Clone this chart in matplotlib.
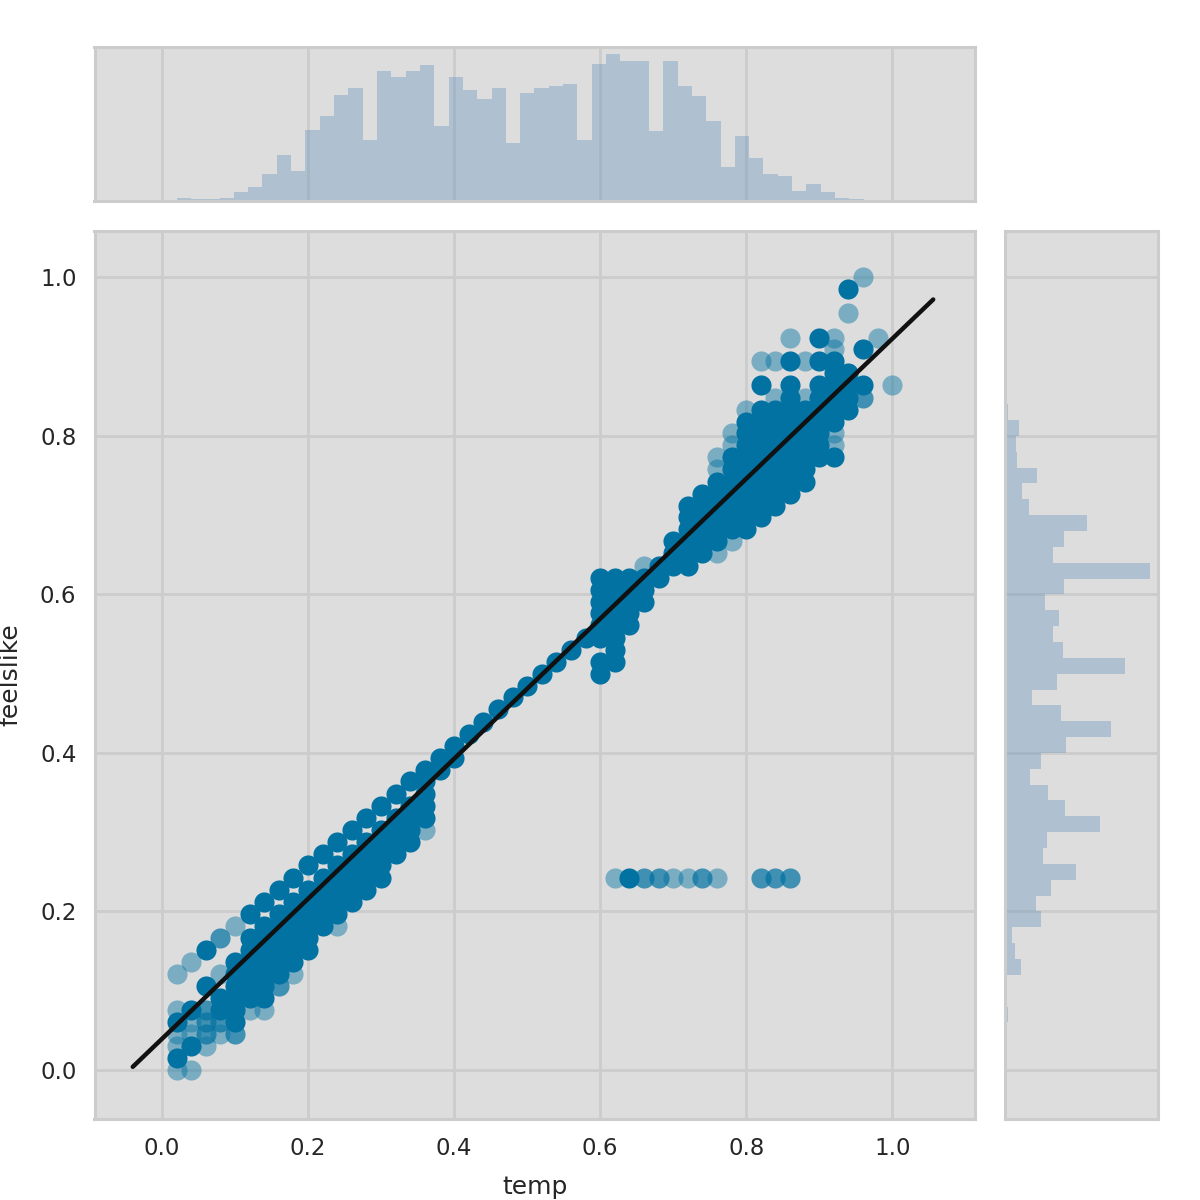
import numpy as np
import matplotlib
matplotlib.use('Agg')
from matplotlib import pyplot as plt

plt.rcParams['font.family'] = ['DejaVu Sans']

# scatter data: temp columns (0.02 steps), feelslike values
col_x = [0.02, 0.04, 0.06, 0.08, 0.10, 0.12, 0.14, 0.16, 0.18, 0.20,
         0.22, 0.24, 0.26, 0.28, 0.30, 0.32, 0.34, 0.36, 0.38, 0.40,
         0.42, 0.44, 0.46, 0.48, 0.50, 0.52, 0.54, 0.56, 0.58, 0.60,
         0.62, 0.64, 0.66, 0.68, 0.70, 0.72, 0.74, 0.76, 0.78, 0.80,
         0.82, 0.84, 0.86, 0.88, 0.90, 0.92, 0.94, 0.96, 0.98, 1.00]
dense_y = [
    [0.015, 0.061],
    [0.030, 0.076],
    [0.106, 0.152],
    [0.076, 0.091],
    [0.061, 0.076, 0.091, 0.106, 0.121, 0.136],
    [0.091, 0.106, 0.121, 0.136, 0.152, 0.167, 0.197],
    [0.091, 0.106, 0.121, 0.136, 0.152, 0.167, 0.182, 0.212],
    [0.121, 0.136, 0.152, 0.167, 0.182, 0.197, 0.227],
    [0.136, 0.152, 0.167, 0.182, 0.197, 0.212, 0.242],
    [0.152, 0.167, 0.182, 0.197, 0.212, 0.227, 0.258],
    [0.182, 0.197, 0.212, 0.227, 0.242, 0.273],
    [0.197, 0.212, 0.227, 0.242, 0.258, 0.288],
    [0.212, 0.227, 0.242, 0.258, 0.273, 0.303],
    [0.227, 0.242, 0.258, 0.273, 0.288, 0.318],
    [0.242, 0.258, 0.273, 0.288, 0.303, 0.333],
    [0.273, 0.288, 0.303, 0.318, 0.348],
    [0.288, 0.303, 0.318, 0.333, 0.364],
    [0.318, 0.333, 0.348, 0.364, 0.379],
    [0.379, 0.394],
    [0.394, 0.409],
    [0.424],
    [0.439],
    [0.455],
    [0.470],
    [0.485],
    [0.500],
    [0.515],
    [0.530],
    [0.545],
    [0.500, 0.515, 0.545, 0.561, 0.576, 0.591, 0.606, 0.621],
    [0.515, 0.530, 0.545, 0.561, 0.576, 0.591, 0.606, 0.621],
    [0.561, 0.576, 0.591, 0.606, 0.621, 0.242],
    [0.591, 0.606, 0.621],
    [0.621, 0.636],
    [0.636, 0.652, 0.667],
    [0.636, 0.652, 0.667, 0.682, 0.697, 0.712],
    [0.652, 0.667, 0.682, 0.697, 0.712, 0.727],
    [0.667, 0.682, 0.697, 0.712, 0.727, 0.742],
    [0.682, 0.697, 0.712, 0.727, 0.742, 0.758, 0.773],
    [0.682, 0.697, 0.712, 0.727, 0.742, 0.758, 0.773, 0.788, 0.803, 0.818],
    [0.697, 0.712, 0.727, 0.742, 0.758, 0.773, 0.788, 0.803, 0.818, 0.833, 0.864],
    [0.712, 0.727, 0.742, 0.758, 0.773, 0.788, 0.803, 0.818, 0.833],
    [0.727, 0.742, 0.758, 0.773, 0.788, 0.803, 0.818, 0.833, 0.848, 0.864, 0.894],
    [0.742, 0.758, 0.773, 0.788, 0.803, 0.818, 0.833],
    [0.773, 0.788, 0.803, 0.818, 0.833, 0.848, 0.864, 0.894, 0.924],
    [0.773, 0.818, 0.833, 0.848, 0.864, 0.879, 0.894],
    [0.833, 0.848, 0.864, 0.879, 0.985],
    [0.864, 0.909],
    [],
    [],
]
# points seen as two overlapping markers
mid_x = [0.06, 0.06, 0.06, 0.08, 0.08, 0.10, 0.16, 0.96,
         0.66, 0.68, 0.74, 0.82, 0.84, 0.86]
mid_y = [0.076, 0.061, 0.045, 0.167, 0.061, 0.045, 0.106, 0.848,
         0.242, 0.242, 0.242, 0.242, 0.242, 0.242]
# single faint points
faint_x = [0.02, 0.02, 0.02, 0.02, 0.02, 0.04, 0.04, 0.04, 0.04, 0.06,
           0.08, 0.08, 0.10, 0.12, 0.14, 0.18, 0.24, 0.36, 0.62, 0.70,
           0.72, 0.76, 0.66, 0.76, 0.78, 0.76, 0.76, 0.78, 0.78, 0.80,
           0.82, 0.84, 0.84, 0.86, 0.88, 0.88, 0.92, 0.92, 0.92, 0.92,
           0.94, 0.96, 0.98, 1.00]
faint_y = [0.121, 0.076, 0.045, 0.030, 0.000, 0.136, 0.061, 0.045, 0.000, 0.030,
           0.121, 0.045, 0.182, 0.076, 0.076, 0.121, 0.182, 0.303, 0.242, 0.242,
           0.242, 0.242, 0.636, 0.652, 0.667, 0.758, 0.773, 0.788, 0.803, 0.833,
           0.894, 0.848, 0.894, 0.924, 0.848, 0.894, 0.788, 0.803, 0.909, 0.924,
           0.955, 1.000, 0.924, 0.864]

# fitted line end points
line_x = [-0.04, 1.056]
line_y = [0.004, 0.972]

# histogram counts (50 bins each)
temp_counts = [13, 8, 8, 13, 43, 68, 133, 223, 148, 348,
               418, 518, 553, 298, 638, 608, 638, 668, 368, 608,
               543, 503, 553, 283, 528, 553, 563, 573, 298, 673,
               723, 688, 688, 343, 688, 563, 513, 393, 163, 318,
               208, 133, 123, 48, 83, 43, 13, 8, 1, 1]
feels_counts = [1, 1, 1, 10, 2, 5, 75, 45, 30, 175,
                150, 225, 345, 185, 205, 465, 290, 210, 120, 175,
                295, 515, 270, 130, 255, 585, 280, 235, 260, 195,
                285, 710, 235, 285, 400, 115, 80, 155, 55, 50,
                65, 10, 5, 5, 1, 1, 1, 1, 1, 1]

ticks = [0.0, 0.2, 0.4, 0.6, 0.8, 1.0]
tick_labels = ['0.0', '0.2', '0.4', '0.6', '0.8', '1.0']

pt_color = '#0272a2'
hist_color = '#5b8db8'
bg = '#dddddd'
gridc = '#cccccc'
txt = '#262626'

fig = plt.figure(figsize=(12, 12), dpi=100)
ax = fig.add_axes([0.07875, 0.0679, 0.7338, 0.74])
ax_top = fig.add_axes([0.07875, 0.8329, 0.7338, 0.1283], sharex=ax)
ax_right = fig.add_axes([0.8379, 0.0679, 0.1267, 0.74], sharey=ax)

for a in (ax, ax_top, ax_right):
    a.set_facecolor(bg)
    a.set_axisbelow(True)
    for s in a.spines.values():
        s.set_color(gridc)
        s.set_linewidth(2.2)
    a.tick_params(length=0, labelsize=16.5, labelcolor=txt, pad=13)

# scatter
dx = [x for x, ys in zip(col_x, dense_y) for _ in ys]
dy = [y for ys in dense_y for y in ys]
ms = 210
ax.scatter(faint_x, faint_y, s=ms, color=pt_color, alpha=0.45, linewidths=0)
ax.scatter(mid_x, mid_y, s=ms, color=pt_color, alpha=0.72, linewidths=0)
ax.scatter(dx, dy, s=ms, color=pt_color, alpha=1.0, linewidths=0)
ax.plot(line_x, line_y, color='#111111', lw=3.2, solid_capstyle='round')

ax.set_xlim(-0.0924, 1.1133)
ax.set_ylim(-0.0612, 1.059)
ax.set_xticks(ticks)
ax.set_xticklabels(tick_labels)
ax.set_yticks(ticks)
ax.set_yticklabels(tick_labels)
ax.grid(True, color=gridc, lw=2)
ax.set_xlabel('temp', fontsize=18, color=txt)
ax.set_ylabel('feelslike', fontsize=18, color=txt)
ax.xaxis.set_label_coords(0.5, -0.064)
ax.yaxis.set_label_coords(-0.082, 0.5)

# top histogram of temp
edges_x = np.linspace(0.02, 1.0, 51)
ax_top.bar(edges_x[:-1], temp_counts, width=np.diff(edges_x), align='edge',
           color=hist_color, alpha=0.35, linewidth=0)
ax_top.set_ylim(0, max(temp_counts) * 1.05)
ax_top.set_yticks([])
ax_top.grid(True, axis='x', color=gridc, lw=2)
ax_top.tick_params(labelbottom=False)

# right histogram of feelslike
edges_y = np.linspace(0.0, 1.0, 51)
ax_right.barh(edges_y[:-1], feels_counts, height=np.diff(edges_y), align='edge',
              color=hist_color, alpha=0.35, linewidth=0)
ax_right.set_xlim(0, max(feels_counts) * 1.05)
ax_right.set_xticks([])
ax_right.grid(True, axis='y', color=gridc, lw=2)
ax_right.tick_params(labelleft=False)

fig.savefig('out.png', dpi=100)
